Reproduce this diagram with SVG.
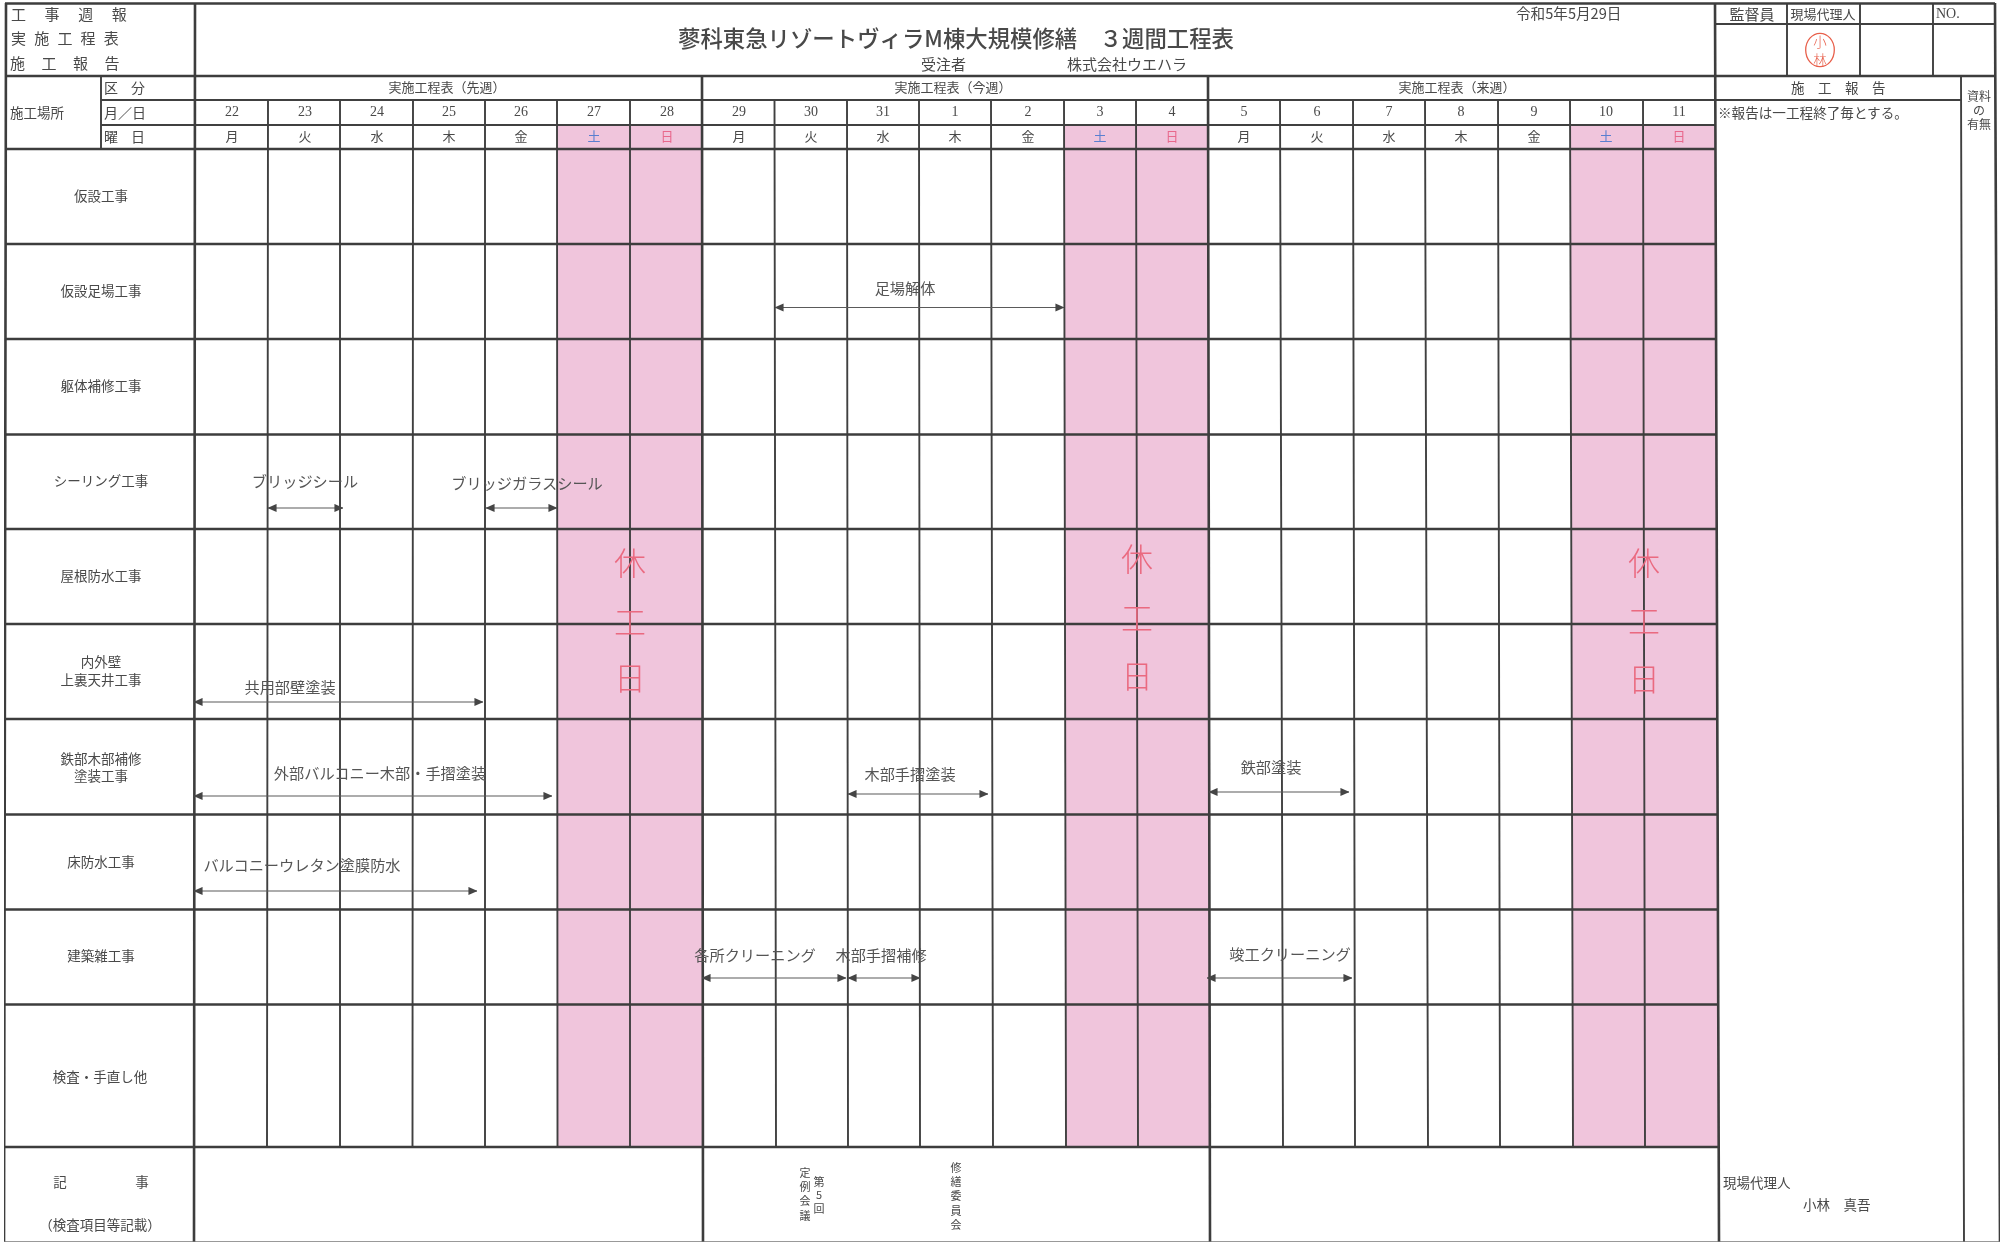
<svg xmlns="http://www.w3.org/2000/svg" width="2005" height="1243" viewBox="0 0 2005 1243">
<defs>
<marker id="ah" viewBox="0 0 10 10" refX="9.5" refY="5" markerWidth="9" markerHeight="9" markerUnits="userSpaceOnUse" orient="auto-start-reverse"><path d="M0 0.5L10 5L0 9.5Z" fill="#444"/></marker>
<filter id="scan" x="0" y="0" width="100%" height="100%"><feGaussianBlur stdDeviation="0.4"/></filter>
</defs>
<style>
text{font-family:"Noto Sans CJK JP","Noto Sans",sans-serif;fill:#484848;font-size:13.5px;dominant-baseline:central;transform:translateY(-1.5px)}
.c{text-anchor:middle}
.d{font-family:"Liberation Serif",serif;font-size:14px;text-anchor:middle}
.h{font-size:15px}
.w{font-size:13px;text-anchor:middle}
.l{font-size:15.2px;fill:#555}
.v{font-size:11px;writing-mode:vertical-rl;text-orientation:upright;transform:none}
.off{font-size:32px;font-weight:300;fill:#ea6a80;text-anchor:middle}
.sat{fill:#5a7fd0;font-size:13px;text-anchor:middle}
.sun{fill:#e8688c;font-size:13px;text-anchor:middle}
.dw{font-size:13px;text-anchor:middle}
.thick{fill:none;stroke:#3c3c3c;stroke-width:2.6}
.thin{fill:none;stroke:#404040;stroke-width:1.9}
.band{fill:#f0c5dc}
.bar{fill:none;stroke:#5a5a5a;stroke-width:1.1;marker-start:url(#ah);marker-end:url(#ah)}
</style>
<rect width="2005" height="1243" fill="#fff"/>
<g id="sheet" filter="url(#scan)">
<g id="holiday-bands">
<path class="band" d="M557 125H702L703 1147H557.5Z"/>
<path class="band" d="M1064 125H1208L1210 1147H1066Z"/>
<path class="band" d="M1570 125H1715L1718 1147H1573Z"/>
</g>
<g id="grid">
<path class="thin" d="M268 100L267 1147M340 100V1147M413 100L412.500 1147M485 100V1147M557 100L557.500 1147M630 100V1147M774.500 100L776 1147M847 100L848 1147M919 100L920 1147M991 100L993 1147M1064 100L1066 1147M1136 100L1138 1147M1280 100L1283 1147M1353 100L1355 1147M1425 100L1428 1147M1498 100L1500 1147M1570 100L1573 1147M1643 100L1645 1147M101 76V149M195 100H1961M101 100H195M101 125H1715M1715 24H1995M1787 3V76M1860 3V76M1933 3V76M1961 76L1964 1242"/>
<path class="thick" d="M6 3L4 1242M195 3L194 1242M702 76L703 1242M1208 76L1210 1242M1715 3L1719 1242M1995 3L2000 1242M5 3.500H1995M6 76H1995M6 149H1716M6 244H1716M6 339H1716M6 434.500H1716M6 529H1717M6 624H1717M5 719H1717M5 814.500H1717M5 909.500H1718M5 1004.500H1718M4 1147H1719"/>
<path d="M4 1242H2000" fill="none" stroke="#777" stroke-width="1.6"/>
</g>
<g id="header-left">
<text x="11" y="15" class="h" letter-spacing="18.600">工事週報</text>
<text x="11" y="39" class="h" letter-spacing="8.200">実施工程表</text>
<text x="10" y="64" class="h" letter-spacing="16.500">施工報告</text>
<text x="10" y="113">施工場所</text>
<text x="104" y="88" style="font-size:14px" letter-spacing="13">区分</text>
<text x="104" y="113" style="font-size:14px">月／日</text>
<text x="104" y="137" style="font-size:14px" letter-spacing="13">曜日</text>
</g>
<g id="title">
<text x="956" y="38" class="c" style="font-size:22.400px;font-weight:500">蓼科東急リゾートヴィラM棟大規模修繕　３週間工程表</text>
<text x="921" y="65" class="h">受注者</text>
<text x="1067" y="65" class="h">株式会社ウエハラ</text>
<text x="1516" y="14" style="font-size:14.600px">令和5年5月29日</text>
</g>
<g id="approval">
<text x="1752" y="15" class="h c">監督員</text>
<text x="1823" y="15" class="c" style="font-size:13px">現場代理人</text>
<text x="1936" y="15" style="font-family:'Liberation Serif',serif;font-size:14px">NO.</text>
<ellipse cx="1820" cy="50" rx="14.300" ry="16.700" fill="none" stroke="#e8604c" stroke-width="1.300"/>
<text x="1820" y="42.500" class="c" style="font-size:13.500px;font-weight:300;fill:#e8604c">小</text>
<text x="1820" y="60" class="c" style="font-size:13.500px;font-weight:300;fill:#e8604c">林</text>
</g>
<g id="week-headers">
<text x="447" y="88" class="w">実施工程表（先週）</text>
<text x="953" y="88" class="w">実施工程表（今週）</text>
<text x="1457" y="88" class="w">実施工程表（来週）</text>
</g>
<g id="dates">
<text x="232" y="113" class="d">22</text><text x="305" y="113" class="d">23</text><text x="377" y="113" class="d">24</text><text x="449" y="113" class="d">25</text><text x="521" y="113" class="d">26</text><text x="594" y="113" class="d">27</text><text x="667" y="113" class="d">28</text>
<text x="739" y="113" class="d">29</text><text x="811" y="113" class="d">30</text><text x="883" y="113" class="d">31</text><text x="955" y="113" class="d">1</text><text x="1028" y="113" class="d">2</text><text x="1100" y="113" class="d">3</text><text x="1172" y="113" class="d">4</text>
<text x="1244" y="113" class="d">5</text><text x="1317" y="113" class="d">6</text><text x="1389" y="113" class="d">7</text><text x="1461" y="113" class="d">8</text><text x="1534" y="113" class="d">9</text><text x="1606" y="113" class="d">10</text><text x="1679" y="113" class="d">11</text>
</g>
<g id="weekdays">
<text x="232" y="137" class="dw">月</text><text x="305" y="137" class="dw">火</text><text x="377" y="137" class="dw">水</text><text x="449" y="137" class="dw">木</text><text x="521" y="137" class="dw">金</text><text x="594" y="137" class="sat">土</text><text x="667" y="137" class="sun">日</text>
<text x="739" y="137" class="dw">月</text><text x="811" y="137" class="dw">火</text><text x="883" y="137" class="dw">水</text><text x="955" y="137" class="dw">木</text><text x="1028" y="137" class="dw">金</text><text x="1100" y="137" class="sat">土</text><text x="1172" y="137" class="sun">日</text>
<text x="1244" y="137" class="dw">月</text><text x="1317" y="137" class="dw">火</text><text x="1389" y="137" class="dw">水</text><text x="1461" y="137" class="dw">木</text><text x="1534" y="137" class="dw">金</text><text x="1606" y="137" class="sat">土</text><text x="1679" y="137" class="sun">日</text>
</g>
<g id="row-labels">
<text x="101" y="196" class="c">仮設工事</text>
<text x="101" y="291" class="c">仮設足場工事</text>
<text x="101" y="386" class="c">躯体補修工事</text>
<text x="101" y="481" class="c">シーリング工事</text>
<text x="101" y="576" class="c">屋根防水工事</text>
<text x="101" y="662" class="c">内外壁</text>
<text x="101" y="680" class="c">上裏天井工事</text>
<text x="101" y="759" class="c">鉄部木部補修</text>
<text x="101" y="776" class="c">塗装工事</text>
<text x="101" y="862" class="c">床防水工事</text>
<text x="101" y="956" class="c">建築雑工事</text>
<text x="100" y="1077" class="c">検査・手直し他</text>
<text x="60" y="1182" class="c">記</text>
<text x="142" y="1182" class="c">事</text>
<text x="100" y="1225" class="c">（検査項目等記載）</text>
</g>
<g id="report-column">
<text x="1791" y="88" letter-spacing="13.500">施工報告</text>
<text x="1718" y="113" style="font-size:13.600px">※報告は一工程終了毎とする。</text>
<text x="1979" y="97" class="c" style="font-size:12px">資料</text>
<text x="1979" y="111" class="c" style="font-size:12px">の</text>
<text x="1979" y="125" class="c" style="font-size:12px">有無</text>
<text x="1723" y="1183">現場代理人</text>
<text x="1803" y="1205">小林　真吾</text>
</g>
<g id="holiday-marks">
<text x="630" y="562" class="off">休</text><text x="630" y="621" class="off">工</text><text x="630" y="677" class="off">日</text>
<text x="1137" y="558" class="off">休</text><text x="1137" y="617" class="off">工</text><text x="1137" y="675" class="off">日</text>
<text x="1644" y="562" class="off">休</text><text x="1644" y="620" class="off">工</text><text x="1644" y="678" class="off">日</text>
</g>
<g id="bar-labels">
<text x="305" y="481" class="l c">ブリッジシール</text>
<text x="527" y="483" class="l c">ブリッジガラスシール</text>
<text x="290" y="687" class="l c">共用部壁塗装</text>
<text x="380" y="773" class="l c">外部バルコニー木部・手摺塗装</text>
<text x="302" y="865" class="l c">バルコニーウレタン塗膜防水</text>
<text x="905" y="288" class="l c">足場解体</text>
<text x="910" y="774" class="l c">木部手摺塗装</text>
<text x="1271" y="767" class="l c">鉄部塗装</text>
<text x="755" y="955" class="l c">各所クリーニング</text>
<text x="881" y="955" class="l c">木部手摺補修</text>
<text x="1290" y="954" class="l c">竣工クリーニング</text>
</g>
<g id="connectors">
<line class="bar" x1="268" y1="508" x2="343" y2="508"/>
<line class="bar" x1="486" y1="508" x2="557" y2="508"/>
<line class="bar" x1="194" y1="702" x2="483" y2="702"/>
<line class="bar" x1="194" y1="796" x2="552" y2="796"/>
<line class="bar" x1="194" y1="891" x2="477" y2="891"/>
<line class="bar" x1="775" y1="307.500" x2="1064" y2="307.500"/>
<line class="bar" x1="848" y1="794" x2="988" y2="794"/>
<line class="bar" x1="1209" y1="792" x2="1349" y2="792"/>
<line class="bar" x1="702" y1="978" x2="846" y2="978"/>
<line class="bar" x1="848" y1="978" x2="920" y2="978"/>
<line class="bar" x1="1207" y1="978" x2="1352" y2="978"/>
</g>
<g id="notes">
<text x="805" y="1167" class="v" letter-spacing="3.300">定例会議</text>
<text x="819" y="1176" class="v" letter-spacing="2.500">第5回</text>
<text x="956" y="1162" class="v" letter-spacing="3.300">修繕委員会</text>
</g>
</g>
</svg>
